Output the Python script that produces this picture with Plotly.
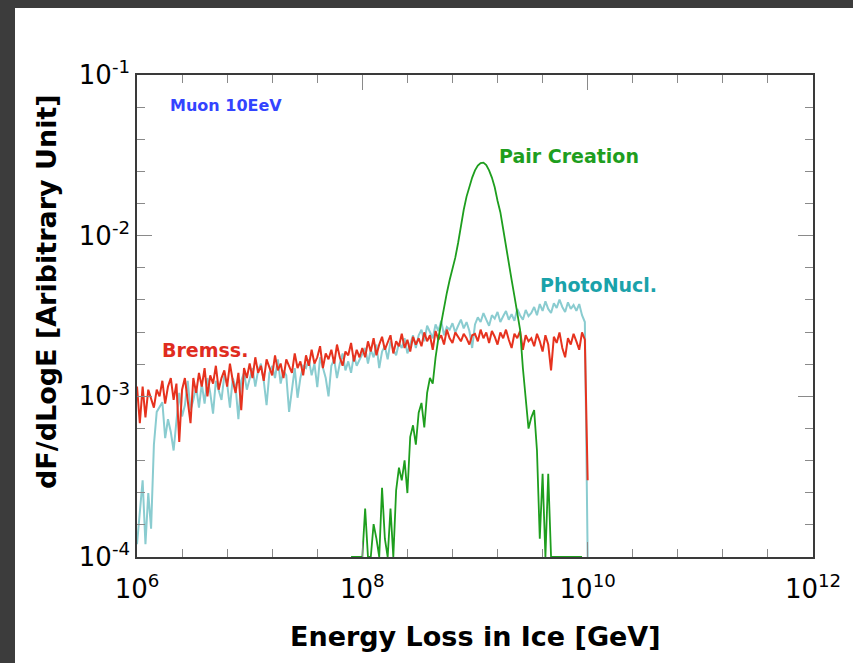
import plotly.graph_objects as go

# ---- data ----
# bin centres in log10(E / GeV), 0.025-decade bins from 1e6 to 1e10
log_e = [round(6 + 0.025 * i, 3) for i in range(161)]

# dF/dLogE values in units of 1e-3
bremss = [
    1.15, 0.68, 1.15, 0.74, 1.1, 0.95, 0.85, 1.1, 1.0, 1.25, 0.9, 1.15, 1.3, 0.95, 1.2, 0.52, 1.1, 1.3, 0.9, 0.68,
    1.3, 1.05, 1.4, 1.15, 1.5, 1.0, 1.35, 1.2, 1.55, 1.1, 1.3, 1.45, 1.15, 1.6, 1.25, 1.05, 1.4, 0.82, 1.5, 1.3,
    1.6, 1.3, 1.75, 1.4, 1.55, 1.25, 1.7, 1.5, 1.35, 1.8, 1.45, 1.6, 1.3, 1.7, 1.55, 1.4, 1.85, 1.5, 1.65, 1.35,
    1.8, 1.55, 1.95, 1.6, 1.75, 2.05, 1.5, 1.85, 1.7, 1.95, 1.6, 2.1, 1.75, 1.55, 1.9, 1.8, 2.15, 1.65, 1.95, 1.75,
    2.0, 1.75, 2.2, 1.9, 2.3, 1.8, 2.1, 2.35, 1.95, 2.15, 2.4, 1.85, 2.2, 2.05, 2.45, 2.0, 2.25, 1.9, 2.35, 2.1,
    2.3, 2.05, 2.5, 2.2, 2.4, 1.95, 2.55, 2.25, 2.4, 2.1, 2.6, 2.3, 2.15, 2.5, 2.35, 2.2, 2.45, 2.3, 2.1, 2.4,
    2.45, 2.2, 2.6, 2.3, 2.5, 2.15, 2.55, 2.35, 2.1, 2.5, 2.3, 2.6, 2.25, 2.0, 2.45, 2.3, 2.55, 1.95, 2.4, 2.2,
    2.3, 2.05, 2.45, 2.2, 1.9, 2.4, 2.1, 1.45, 2.35, 2.15, 2.5, 2.0, 1.75, 2.3, 2.1, 2.45, 2.2, 1.95, 2.5, 2.25,
    0.3,
]
photonucl = [
    0.12, 0.2, 0.3, 0.12, 0.25, 0.15, 0.5, 0.8, 0.85, 0.92, 0.55, 0.72, 0.6, 0.46, 0.7, 1.05, 0.75, 0.88, 1.25, 0.82,
    0.95, 1.15, 0.85, 1.2, 0.9, 1.3, 1.05, 0.78, 1.25, 1.1, 0.95, 1.35, 1.2, 0.85, 1.3, 1.15, 0.72, 1.25, 1.4, 1.1,
    1.3, 1.5, 1.15, 1.45, 1.6, 1.25, 0.88, 1.4, 1.55, 1.3, 1.7, 1.2, 1.45, 1.35, 0.8, 1.1, 1.5, 0.98, 1.3, 1.55,
    1.5, 1.7, 1.35, 1.6, 1.14, 1.75, 1.5, 1.3, 1.0, 1.55, 1.7, 1.3, 1.6, 1.85, 1.45, 1.65, 1.4, 1.8, 1.55, 1.7,
    1.85, 2.0, 1.6, 1.95, 1.75, 2.1, 1.5, 1.9, 2.05, 1.7, 2.2, 1.95, 1.8, 2.15, 2.0, 2.3, 1.85, 2.1, 2.4, 2.0,
    2.4, 2.6, 2.2, 2.75, 2.5, 2.3, 2.8, 2.55, 2.95, 2.4, 2.7, 2.6, 2.85, 2.5, 2.75, 3.0, 2.65, 2.9, 2.55, 2.0,
    2.8, 3.1, 2.9, 3.3, 3.0, 2.75, 3.2, 3.05, 3.35, 2.9, 3.15, 3.4, 3.0, 3.25, 2.95, 3.5, 3.2, 3.0, 3.45, 3.15,
    3.3, 3.6, 3.2, 3.75, 3.4, 3.9, 3.5, 3.3, 3.8, 3.55, 4.0, 3.6, 3.35, 3.85, 3.5, 3.7, 3.4, 3.75, 3.2, 2.9,
    0.1,
]
# pair creation starts at log10(E) = 7.9 (index 76 of the bin grid)
pair_start = 76
pair = [
    0.1, 0.1, 0.1, 0.1, 0.1, 0.2, 0.1, 0.1, 0.16, 0.13, 0.1, 0.27, 0.13, 0.1, 0.2, 0.1,
    0.26, 0.36, 0.3, 0.4, 0.25, 0.56, 0.66, 0.5, 0.79, 0.91, 0.64, 1.05, 1.3,
    1.2, 1.75, 2.3, 2.9, 3.6, 4.4, 5.3, 6.2, 7.3, 9.0, 11.5, 14.5, 17.5, 20.5, 23.0, 25.5,
    27.3, 28.3, 28.5, 27.5, 25.5, 23.0, 20.0, 16.5, 14.0, 11.0, 8.5, 6.8, 5.3, 4.2, 3.3, 2.6,
    1.5, 0.95, 0.63, 0.74, 0.82, 0.46, 0.13, 0.33, 0.1, 0.33, 0.1,
    0.1, 0.1, 0.1, 0.1, 0.1, 0.1, 0.1, 0.1, 0.1, 0.1, 0.1,
]
unit = 1e-3

x_major = [6, 8, 10, 12]
x_minor = [6.4, 6.8, 7.2, 7.6, 8.4, 8.8, 9.2, 9.6, 10.4, 10.8, 11.2, 11.6]
y_major = [-4, -3, -2, -1]
y_minor = [-3.8, -3.6, -3.4, -3.2, -2.8, -2.6, -2.4, -2.2, -1.8, -1.6, -1.4, -1.2]

energy = [10 ** v for v in log_e]
pair_energy = energy[pair_start:pair_start + len(pair)]

fig = go.Figure()
fig.add_trace(go.Scatter(x=energy, y=[v * unit for v in photonucl], mode="lines",
                         line=dict(color="#8accd0", width=2), name="PhotoNucl."))
fig.add_trace(go.Scatter(x=energy, y=[v * unit for v in bremss], mode="lines",
                         line=dict(color="#e6321e", width=2), name="Bremss."))
fig.add_trace(go.Scatter(x=pair_energy, y=[v * unit for v in pair], mode="lines",
                         line=dict(color="#1e9e1e", width=1.8), name="Pair Creation"))

L, R, T, B = 137, 813, 75, 557
W, H = 853, 663
pw, ph = R - L, B - T


def px(x):
    return (x - L) / pw


def py(y):
    return (B - y) / ph


tickfont = dict(family="DejaVu Sans", size=26, color="black")
axis_common = dict(
    showgrid=False, zeroline=False, showline=True, linecolor="#3a3a3a", linewidth=1.5,
    mirror="allticks", ticks="inside", ticklen=15, tickwidth=1.3, tickcolor="#8a8a8a",
    tickfont=tickfont,
)

fig.update_xaxes(
    type="log", range=[6, 12],
    tickvals=[10 ** v for v in x_major],
    ticktext=["10<sup>%d</sup>" % v for v in x_major],
    ticklabelstandoff=8,
    minor=dict(tickvals=[10 ** v for v in x_minor], ticks="inside", ticklen=8,
               tickwidth=1.3, tickcolor="#8a8a8a"),
    **axis_common,
)
fig.update_yaxes(
    type="log", range=[-4, -1],
    tickvals=[10 ** v for v in y_major],
    ticktext=["10<sup>-%d</sup>" % (-v) for v in y_major],
    minor=dict(tickvals=[10 ** v for v in y_minor], ticks="inside", ticklen=8,
               tickwidth=1.3, tickcolor="#8a8a8a"),
    **axis_common,
)

annotations = [
    dict(text="<b>Muon 10EeV</b>", x=px(168), y=py(105), font=dict(size=16, color="#3344ff")),
    dict(text="<b>Pair Creation</b>", x=px(497), y=py(156), font=dict(size=19, color="#1e9e1e")),
    dict(text="<b>PhotoNucl.</b>", x=px(538), y=py(285), font=dict(size=19, color="#1aa2aa")),
    dict(text="<b>Bremss.</b>", x=px(160), y=py(350), font=dict(size=19, color="#e02c20")),
]
for a in annotations:
    a.update(xref="paper", yref="paper", xanchor="left", yanchor="middle", showarrow=False)
    a["font"]["family"] = "DejaVu Sans"

annotations.append(dict(text="<b>Energy Loss in Ice [GeV]</b>", x=px(476), y=py(636),
                        xref="paper", yref="paper", xanchor="center", yanchor="middle",
                        showarrow=False, font=dict(family="DejaVu Sans", size=27, color="black")))
annotations.append(dict(text="<b>dF/dLogE [Aribitrary Unit]</b>", x=px(46), y=py(292),
                        xref="paper", yref="paper", xanchor="center", yanchor="middle",
                        textangle=-90, showarrow=False,
                        font=dict(family="DejaVu Sans", size=27, color="black")))

fig.update_layout(
    width=W, height=H,
    margin=dict(l=L, r=W - R, t=T, b=H - B, pad=0),
    paper_bgcolor="#3c3c3c", plot_bgcolor="white",
    showlegend=False,
    annotations=annotations,
    shapes=[dict(type="rect", xref="paper", yref="paper", layer="below",
                 x0=px(15), x1=px(W + 5), y0=py(H + 5), y1=py(8),
                 fillcolor="white", line=dict(width=0))],
)

fig.write_html("out.html", config={"displayModeBar": False},
               post_script="document.body.style.margin='0';document.body.style.overflow='hidden';")
